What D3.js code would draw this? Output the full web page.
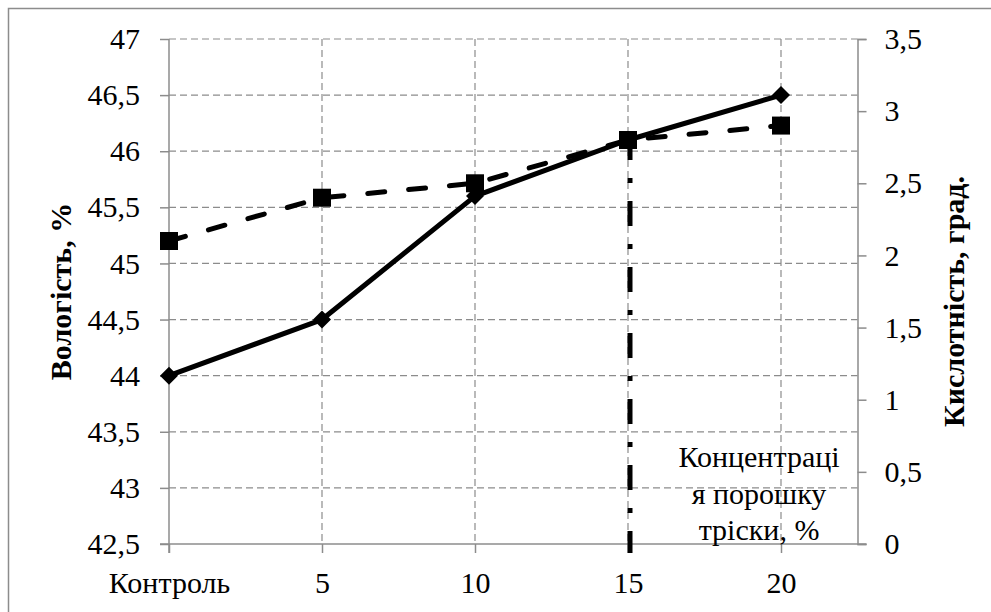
<!DOCTYPE html>
<html><head><meta charset="utf-8">
<script src="https://cdn.jsdelivr.net/npm/d3@7"></script>
<style>body{margin:0;background:#fff}svg{display:block}</style>
</head><body>
<svg id="c" width="991" height="612"></svg>
<script>
const categories = ["Контроль", "5", "10", "15", "20"];
const xValues = [0, 5, 10, 15, 20];
const moisture = [44, 44.5, 45.6, 46.1, 46.5];
const acidity = [2.1, 2.4, 2.5, 2.8, 2.9];
const leftTicks = [42.5, 43, 43.5, 44, 44.5, 45, 45.5, 46, 46.5, 47];
const rightTicks = [0, 0.5, 1, 1.5, 2, 2.5, 3, 3.5];
const markerX = 15;
const leftTitle = "Вологість, %";
const rightTitle = "Кислотність, град.";
const noteLines = ["Концентраці", "я порошку", "тріски, %"];

const svg = d3.select("#c");
const font = "Liberation Serif";
const grid = "#8c8c8c";
const loc = d3.formatLocale({decimal: ",", thousands: " ", grouping: [3], currency: ["", ""]});
const fmt = loc.format(".1~f");

const L = 169, R = 857.5, T = 39, B = 544;
const x = d3.scaleLinear().domain([0, 22.5]).range([L, R]);
const yL = d3.scaleLinear().domain([42.5, 47]).range([B, T]);
const yR = d3.scaleLinear().domain([0, 3.5]).range([B, T]);

svg.append("rect").attr("x", 8.5).attr("y", 8.5).attr("width", 1000).attr("height", 1000)
  .attr("fill", "none").attr("stroke", grid).attr("stroke-width", 1.5);

svg.append("g").selectAll("line").data(leftTicks.filter(d => d !== 42.5)).join("line")
  .attr("x1", L).attr("x2", R).attr("y1", d => yL(d)).attr("y2", d => yL(d))
  .attr("stroke", grid).attr("stroke-width", 1.2).attr("stroke-dasharray", "7,4");
svg.append("g").selectAll("line").data(xValues.filter(d => d !== 0)).join("line")
  .attr("x1", d => x(d)).attr("x2", d => x(d)).attr("y1", T).attr("y2", B)
  .attr("stroke", grid).attr("stroke-width", 1.2).attr("stroke-dasharray", "7,4");

const axL = svg.append("g").attr("transform", `translate(${L},0)`)
  .call(d3.axisLeft(yL).tickValues(leftTicks).tickFormat(fmt).tickSize(9).tickPadding(20));
const axR = svg.append("g").attr("transform", `translate(${R},0)`)
  .call(d3.axisRight(yR).tickValues(rightTicks).tickFormat(fmt).tickSize(9).tickPadding(18));
const axB = svg.append("g").attr("transform", `translate(0,${B})`)
  .call(d3.axisBottom(x).tickValues(xValues).tickFormat((d, i) => categories[i]).tickSize(9).tickPadding(23));
axB.select(".domain").attr("d", `M${L - 9},0H${R + 9}`);

[axL, axR, axB].forEach(a => {
  a.attr("font-family", font).attr("font-size", 30);
  a.selectAll(".domain").attr("stroke", grid).attr("stroke-width", 1.5);
  a.selectAll(".tick line").attr("stroke", grid).attr("stroke-width", 1.5);
  a.selectAll("text").attr("fill", "#000");
});
axB.selectAll(".tick text").attr("dy", "0.55em");
axL.select(".domain").attr("d", `M0,${T}V${B + 9}`);

svg.append("text").attr("transform", `translate(60,${(T + B) / 2}) rotate(-90)`)
  .attr("text-anchor", "middle").attr("dy", "0.35em")
  .attr("font-family", font).attr("font-size", 30).attr("font-weight", "bold").text(leftTitle);
svg.append("text").attr("transform", `translate(953,${(T + B) / 2 + 10}) rotate(-90)`)
  .attr("text-anchor", "middle").attr("dy", "0.35em")
  .attr("font-family", font).attr("font-size", 30).attr("font-weight", "bold").text(rightTitle);

const accIdx = xValues.indexOf(markerX);
svg.append("line")
  .attr("x1", x(markerX) + 2).attr("x2", x(markerX) + 2)
  .attr("y1", yR(acidity[accIdx]) - 5).attr("y2", B + 9)
  .attr("stroke", "#000").attr("stroke-width", 5).attr("stroke-dasharray", "25,18,5,18");

const note = svg.append("text").attr("font-family", font).attr("font-size", 30).attr("text-anchor", "middle");
noteLines.forEach((t, i) => note.append("tspan").attr("x", 759).attr("y", 467 + i * 36.5).text(t));

const pts2 = xValues.map((v, i) => [x(v), yR(acidity[i])]);
svg.append("path").attr("d", d3.line()(pts2)).attr("fill", "none").attr("stroke", "#000")
  .attr("stroke-width", 5).attr("stroke-dasharray", "17,24").attr("stroke-linecap", "round");

const pts1 = xValues.map((v, i) => [x(v), yL(moisture[i])]);
svg.append("path").attr("d", d3.line()(pts1)).attr("fill", "none").attr("stroke", "#000")
  .attr("stroke-width", 5).attr("stroke-linejoin", "round");

svg.append("g").selectAll("path").data(pts1).join("path")
  .attr("transform", d => `translate(${d[0]},${d[1]})`)
  .attr("d", "M0,-9L9,0L0,9L-9,0Z").attr("fill", "#000");
svg.append("g").selectAll("rect").data(pts2).join("rect")
  .attr("x", d => d[0] - 9).attr("y", d => d[1] - 9).attr("width", 18).attr("height", 18).attr("fill", "#000");
</script>
</body></html>
